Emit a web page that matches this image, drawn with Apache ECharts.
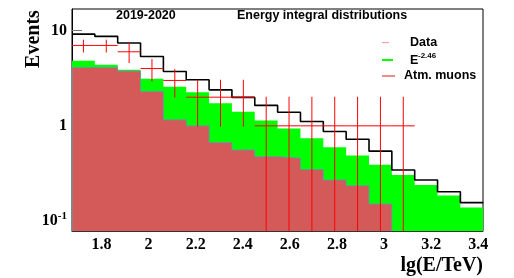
<!DOCTYPE html>
<html><head><meta charset="utf-8">
<script src="https://cdn.jsdelivr.net/npm/echarts@6/dist/echarts.min.js"></script>
<style>html,body{margin:0;padding:0;background:#fff}#c{width:514px;height:278px}</style>
</head><body><div id="c"></div>
<script>
// ---- data ----
const binEdges = [1.675, 1.772, 1.869, 1.966, 2.063, 2.160, 2.257, 2.354, 2.451, 2.548,
                  2.645, 2.742, 2.839, 2.936, 3.033, 3.130, 3.227, 3.324, 3.421];
const dataCounts = [7, 7, 6, 4, 3, 2, 2, 2, 1, 1, 1, 1, 1, 1, 1];
const dataUpper  = [8.05, 8.05, 7.54, 5.04, 3.95, 3.05, 3.05, 3.05, 2.02, 2.02, 2.02, 2.02, 2.02, 2.02, 2.02];
const dataLower  = [5.9, 5.9, 4.57, 2.93, 1.98, 0.98, 0.98, 0.98, 0, 0, 0, 0, 0, 0, 0];
const totalMC    = [9.2, 8.71, 7.42, 5.36, 3.73, 3.05, 2.39, 1.99, 1.64, 1.39, 1.11, 0.871, 0.724, 0.542, 0.344, 0.270, 0.203, 0.156];
const signalE246 = [4.83, 4.39, 3.89, 3.12, 2.57, 2.26, 1.73, 1.41, 1.14, 0.937, 0.742, 0.597, 0.487, 0.389, 0.305, 0.239, 0.185, 0.139];
const atmMuons   = [4.11, 4.11, 3.76, 2.30, 1.157, 1.0, 0.667, 0.559, 0.475, 0.457, 0.347, 0.270, 0.235, 0.151];
const xTickLabels = [1.8, 2, 2.2, 2.4, 2.6, 2.8, 3, 3.2, 3.4];
const xMin = 1.675, xMax = 3.42;
const yMin = 0.0785, yMax = 16.9;

// step outline: (edge_i, v_i) ..., (edge_n, v_{n-1})
function stepPts(vals) {
  const p = vals.map((v, i) => [binEdges[i], v]);
  p.push([binEdges[vals.length], vals[vals.length - 1]]);
  return p;
}
function closedStepPts(vals) {
  const p = [[binEdges[0], yMin]].concat(stepPts(vals));
  p.push([binEdges[vals.length], yMin]);
  return p;
}
const crossData = dataCounts.map((v, i) => [binEdges[i], binEdges[i + 1], v, dataLower[i], dataUpper[i]]);

const serif = "'Liberation Serif','Times New Roman',serif";
const sans = "'Liberation Sans',Arial,Helvetica,sans-serif";

const chart = echarts.init(document.getElementById('c'), null, {renderer: 'canvas'});
chart.setOption({
  animation: false,
  backgroundColor: '#fff',
  grid: {left: 72, top: 9, right: 31, bottom: 47, show: true, borderColor: '#000', borderWidth: 1, backgroundColor: 'transparent'},
  xAxis: {
    type: 'value', min: xMin, max: xMax,
    name: 'lg(E/TeV)', nameLocation: 'end', nameGap: 0,
    nameTextStyle: {fontFamily: serif, fontWeight: 'bold', fontSize: 20, color: '#000', align: 'right', verticalAlign: 'top', padding: [25, 0, 0, 0]},
    axisLine: {lineStyle: {color: '#333', width: 1}},
    axisTick: {show: true, inside: true, length: 6, customValues: xTickLabels, lineStyle: {color: '#333'}},
    axisLabel: {customValues: xTickLabels, formatter: v => String(v), fontFamily: serif, fontWeight: 'bold', fontSize: 16, color: '#000', margin: 6},
    splitLine: {show: false}
  },
  yAxis: {
    type: 'log', logBase: 10, min: yMin, max: yMax,
    axisLine: {lineStyle: {color: '#000', width: 1}},
    axisTick: {show: true, inside: true, length: 10, lineStyle: {color: '#777'}},
    axisLabel: {
      showMinLabel: false, showMaxLabel: false, margin: 5,
      formatter: v => (Math.abs(v - 0.1) < 1e-9 ? '{b|10}{s|-1}' : '{b|' + Math.round(v) + '}'),
      rich: {
        b: {fontFamily: serif, fontWeight: 'bold', fontSize: 16, color: '#000', lineHeight: 20},
        s: {fontFamily: serif, fontWeight: 'bold', fontSize: 11, color: '#000', verticalAlign: 'top', lineHeight: 12}
      }
    },
    splitLine: {show: false}
  },
  series: [
    {
      name: 'E^-2.46', type: 'line', step: 'end', symbol: 'none', silent: true,
      data: stepPts(signalE246),
      lineStyle: {width: 0, color: '#00ff00'},
      areaStyle: {color: '#00ff00', opacity: 1, origin: 'start'},
      z: 2
    },
    {
      name: 'Atm. muons', type: 'line', step: 'end', symbol: 'none', silent: true,
      data: closedStepPts(atmMuons),
      lineStyle: {width: 0.9, color: '#5f9ea0'},
      areaStyle: {color: '#d35a58', opacity: 1, origin: 'start'},
      z: 3
    },
    {
      name: 'Total', type: 'line', step: 'end', symbol: 'none', silent: true,
      data: stepPts(totalMC),
      lineStyle: {width: 1.6, color: '#000'},
      z: 4
    },
    {
      name: 'Data', type: 'custom', z: 5, clip: true,
      data: crossData,
      encode: {x: [0, 1], y: 2},
      renderItem: function (params, api) {
        const x0 = api.value(0), x1 = api.value(1), v = api.value(2), lo = api.value(3), hi = api.value(4);
        const cs = params.coordSys;
        const pL = api.coord([x0, v]), pR = api.coord([x1, v]);
        const xc = (pL[0] + pR[0]) / 2;
        const yHi = api.coord([x0, hi])[1];
        const yLo = lo > 0 ? api.coord([x0, lo])[1] : cs.y + cs.height;
        const st = {stroke: '#ff0000', lineWidth: 1};
        return {type: 'group', children: [
          {type: 'line', shape: {x1: pL[0], y1: pL[1], x2: pR[0], y2: pR[1]}, style: st},
          {type: 'line', shape: {x1: xc, y1: yHi, x2: xc, y2: yLo}, style: st}
        ]};
      }
    }
  ],
  graphic: [
    {type: 'text', left: 116, top: 9, style: {text: '2019-2020', font: 'bold 12.5px ' + sans, fill: '#000'}},
    {type: 'text', left: 237, top: 9, style: {text: 'Energy integral distributions', font: 'bold 12.5px ' + sans, fill: '#000'}},
    {type: 'text', x: 33.5, y: 39, rotation: Math.PI / 2,
      style: {text: 'Events', font: 'bold 20px ' + serif, fill: '#000', textAlign: 'center', textVerticalAlign: 'middle'}},
    // legend
    {type: 'line', shape: {x1: 382, y1: 42.7, x2: 389, y2: 42.7}, style: {stroke: '#ff8c8c', lineWidth: 1}},
    {type: 'line', shape: {x1: 382, y1: 60, x2: 393, y2: 60}, style: {stroke: '#00ff00', lineWidth: 2}},
    {type: 'line', shape: {x1: 382, y1: 76, x2: 395, y2: 76}, style: {stroke: '#f28b8b', lineWidth: 2}},
    {type: 'text', x: 410, y: 43, style: {text: 'Data', font: 'bold 12.5px ' + sans, fill: '#000', textVerticalAlign: 'middle'}},
    {type: 'text', x: 410, y: 61, style: {text: 'E', font: 'bold 12.5px ' + sans, fill: '#000', textVerticalAlign: 'middle'}},
    {type: 'text', x: 418, y: 56, style: {text: '-2.46', font: 'bold 8px ' + sans, fill: '#000', textVerticalAlign: 'middle'}},
    {type: 'text', x: 404, y: 76, style: {text: 'Atm. muons', font: 'bold 12.5px ' + sans, fill: '#000', textVerticalAlign: 'middle'}}
  ]
});
</script>
</body></html>
